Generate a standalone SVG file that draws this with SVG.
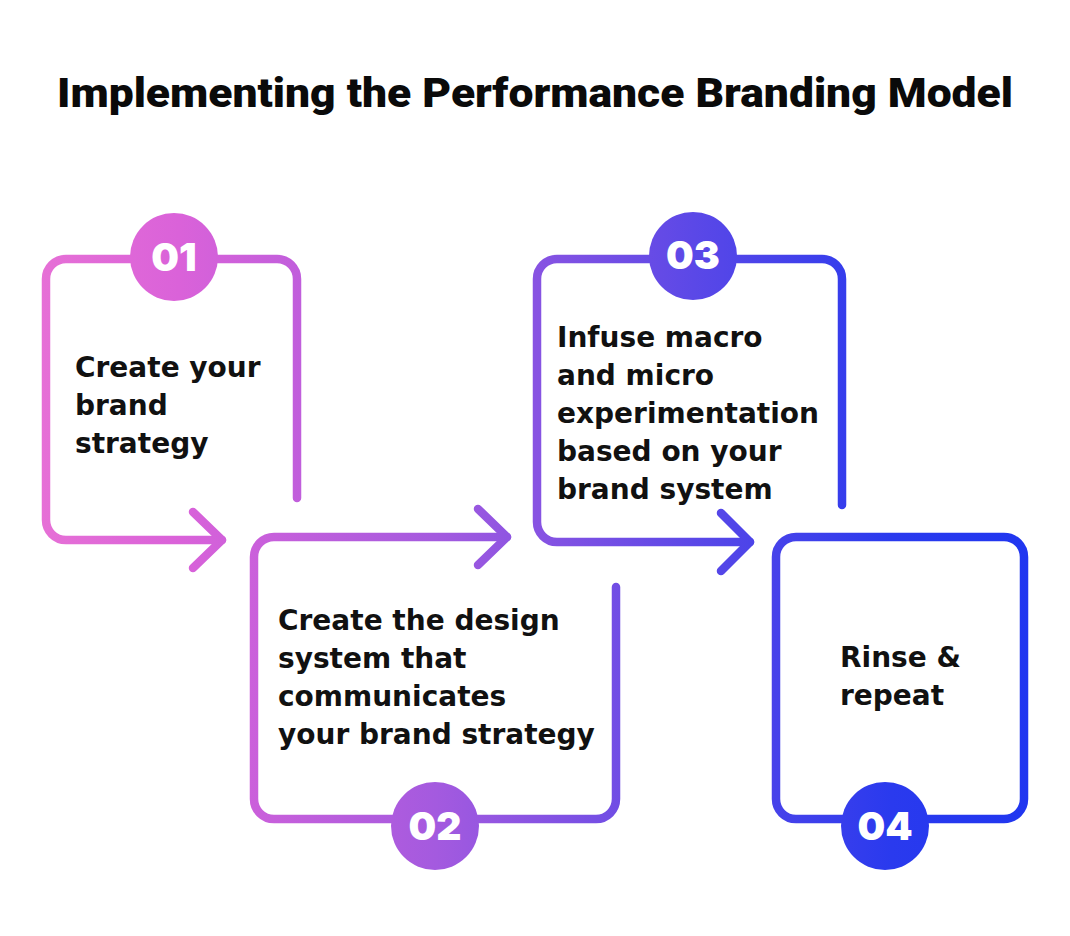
<svg xmlns="http://www.w3.org/2000/svg" width="1070" height="936" viewBox="0 0 1070 936">
  <defs>
    <linearGradient id="g" gradientUnits="userSpaceOnUse" x1="40" y1="0" x2="1030" y2="0">
      <stop offset="0" stop-color="#E670D6"/>
      <stop offset="0.14" stop-color="#DA62D9"/>
      <stop offset="0.4" stop-color="#A45ADF"/>
      <stop offset="0.66" stop-color="#5B48E7"/>
      <stop offset="0.86" stop-color="#2A3AEE"/>
      <stop offset="1" stop-color="#2036F0"/>
    </linearGradient>
  </defs>
  <style>
    .ln { fill: none; stroke: url(#g); stroke-width: 8.5; stroke-linecap: round; stroke-linejoin: round; }
    .badge { fill: url(#g); }
    .num { font-family: Inter, "Noto Sans", sans-serif; font-weight: 900; font-size: 39px; fill: #ffffff; text-anchor: middle; }
    .txt { font-family: "DejaVu Sans", sans-serif; font-weight: 700; font-size: 28px; fill: #111111; }
    .title { font-family: Roboto, Inter, sans-serif; font-weight: 900; font-size: 41px; fill: #0a0a0a; }
  </style>
  <rect width="1070" height="936" fill="#ffffff"/>
  <text class="title" x="57" y="107" textLength="956" lengthAdjust="spacingAndGlyphs">Implementing the Performance Branding Model</text>

  <g id="connectors">
    <path class="ln" d="M297 498 V279 A20 20 0 0 0 277 259 H66 A20 20 0 0 0 46 279 V520 A20 20 0 0 0 66 540 H222"/>
    <polyline class="ln" points="193,512 222,540 193,568"/>
    <path class="ln" d="M616 587 V799 A20 20 0 0 1 596 819 H274 A20 20 0 0 1 254 799 V557 A20 20 0 0 1 274 537 H507"/>
    <polyline class="ln" points="478,509 507,537 478,565"/>
    <path class="ln" d="M842 505 V279 A20 20 0 0 0 822 259 H557 A20 20 0 0 0 537 279 V522 A20 20 0 0 0 557 542 H750"/>
    <polyline class="ln" points="721,513 750,542 721,571"/>
  </g>

  <g id="node1">
    <circle class="badge" cx="174" cy="257" r="44"/>
    <text class="num" x="174" y="271">01</text>
    <text class="txt"><tspan x="75" y="377">Create your</tspan><tspan x="75" y="415">brand</tspan><tspan x="75" y="453">strategy</tspan></text>
  </g>
  <g id="node2">
    <circle class="badge" cx="435" cy="826" r="44"/>
    <text class="num" x="435" y="840">02</text>
    <text class="txt"><tspan x="278" y="630">Create the design</tspan><tspan x="278" y="668">system that</tspan><tspan x="278" y="706">communicates</tspan><tspan x="278" y="744">your brand strategy</tspan></text>
  </g>
  <g id="node3">
    <circle class="badge" cx="693" cy="256" r="44"/>
    <text class="num" x="693" y="269">03</text>
    <text class="txt"><tspan x="557" y="347">Infuse macro</tspan><tspan x="557" y="385">and micro</tspan><tspan x="557" y="423">experimentation</tspan><tspan x="557" y="461">based on your</tspan><tspan x="557" y="499">brand system</tspan></text>
  </g>
  <g id="node4">
    <rect class="ln" x="776" y="537" width="248" height="282" rx="20"/>
    <circle class="badge" cx="885" cy="826" r="44"/>
    <text class="num" x="885" y="840">04</text>
    <text class="txt"><tspan x="840" y="667">Rinse &amp;</tspan><tspan x="840" y="705">repeat</tspan></text>
  </g>
</svg>
